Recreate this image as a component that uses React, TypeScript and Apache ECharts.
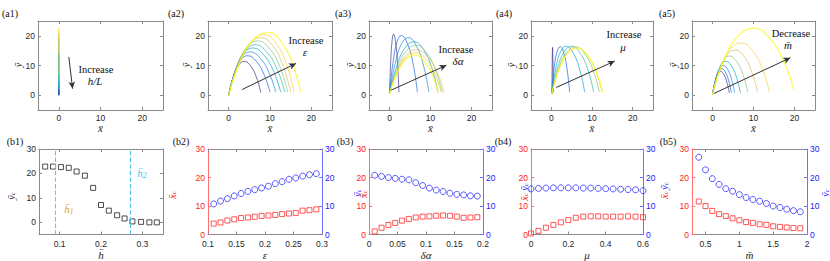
import React, { useEffect, useRef } from 'react';
import * as echarts from 'echarts';

// ---------------- data ----------------
const a1Heights = [22.8, 22.5, 20.8, 19.1, 14.1, 7.1, 4.8, 2.9, 1.6];

const a2Curves = [
  [[0, 0], [1.14, 6.27], [2.47, 10.26], [3.8, 11.4], [5.4, 9.69], [6.8, 5.7], [7.8, 0.8]],
  [[0, 0], [1.38, 7.32], [2.99, 11.97], [4.6, 13.3], [6.76, 11.31], [8.65, 6.65], [10.0, 1]],
  [[0, 0], [1.56, 8.03], [3.38, 13.14], [5.2, 14.6], [7.68, 12.41], [9.85, 7.3], [11.4, 1]],
  [[0, 0], [1.74, 8.75], [3.77, 14.31], [5.8, 15.9], [8.52, 13.52], [10.9, 7.95], [12.6, 1]],
  [[0, 0], [1.92, 9.35], [4.16, 15.3], [6.4, 17.0], [9.28, 14.45], [11.8, 8.5], [13.6, 1]],
  [[0, 0], [2.13, 10.07], [4.62, 16.47], [7.1, 18.3], [9.98, 15.56], [12.5, 9.15], [14.3, 1]],
  [[0, 0], [2.37, 10.67], [5.14, 17.46], [7.9, 19.4], [10.74, 16.49], [13.23, 9.7], [15.0, 1]],
  [[0, 0], [2.61, 11.22], [5.66, 18.36], [8.7, 20.4], [11.54, 17.34], [14.03, 10.2], [15.8, 1]],
  [[0, 0], [2.88, 11.66], [6.24, 19.08], [9.6, 21.2], [12.72, 18.02], [15.45, 10.6], [17.4, 1]],
];

const a3Curves = [
  [[0, 0.5], [0.3, 11.33], [0.65, 18.54], [1.0, 20.6], [1.52, 17.51], [1.98, 10.3], [2.3, 1]],
  [[0, 0.5], [0.87, 11.06], [1.89, 18.09], [2.9, 20.1], [4.46, 17.09], [5.83, 10.05], [6.8, 1]],
  [[0, 0.5], [1.38, 10.67], [2.99, 17.46], [4.6, 19.4], [6.6, 16.49], [8.35, 9.7], [9.6, 1]],
  [[0, 0.5], [1.8, 9.9], [3.9, 16.2], [6.0, 18.0], [8.32, 15.3], [10.35, 9.0], [11.8, 1]],
  [[0, 0.5], [1.95, 9.24], [4.23, 15.12], [6.5, 16.8], [9.02, 14.28], [11.23, 8.4], [12.8, 1]],
  [[0, 0.5], [1.98, 8.42], [4.29, 13.77], [6.6, 15.3], [9.28, 13.0], [11.63, 7.65], [13.3, 1]],
  [[0, 0.5], [1.92, 7.87], [4.16, 12.87], [6.4, 14.3], [8.88, 12.16], [11.05, 7.15], [12.6, 1]],
  [[0, 0.5], [1.86, 7.43], [4.03, 12.15], [6.2, 13.5], [8.48, 11.48], [10.48, 6.75], [11.9, 1]],
];

const a4Curves = [
  [[0.15, 0.5], [0.2, 9], [0.3, 16.1], [0.4, 10], [0.5, 1]],
  [[0.1, 0.5], [0.66, 9.02], [1.43, 14.76], [2.2, 16.4], [3.12, 13.94], [3.93, 8.2], [4.5, 1]],
  [[0.1, 0.5], [1.08, 9.08], [2.34, 14.85], [3.6, 16.5], [5.44, 14.03], [7.05, 8.25], [8.2, 1]],
  [[0.1, 0.5], [1.5, 9.08], [3.25, 14.85], [5.0, 16.5], [7.16, 14.03], [9.05, 8.25], [10.4, 1]],
  [[0.1, 0.5], [1.77, 8.97], [3.84, 14.67], [5.9, 16.3], [8.26, 13.86], [10.33, 8.15], [11.8, 1]],
  [[0.1, 0.5], [1.89, 8.8], [4.1, 14.4], [6.3, 16.0], [8.78, 13.6], [10.95, 8.0], [12.5, 1]],
  [[0.1, 0.5], [1.89, 8.75], [4.1, 14.31], [6.3, 15.9], [8.82, 13.52], [11.03, 7.95], [12.6, 1]],
];

const a5Curves = [
  [[0, 0.3], [0.6, 4.4], [1.3, 7.2], [2.0, 8.0], [2.84, 6.8], [3.58, 4.0], [4.1, 0.8]],
  [[0, 0.3], [0.69, 4.9], [1.5, 8.01], [2.3, 8.9], [3.22, 7.57], [4.03, 4.45], [4.6, 0.8]],
  [[0, 0.3], [0.81, 5.5], [1.76, 9.0], [2.7, 10.0], [3.78, 8.5], [4.73, 5.0], [5.4, 0.8]],
  [[0, 0.3], [0.99, 6.27], [2.15, 10.26], [3.3, 11.4], [4.7, 9.69], [5.93, 5.7], [6.8, 0.8]],
  [[0, 0.3], [1.26, 7.26], [2.73, 11.88], [4.2, 13.2], [5.96, 11.22], [7.5, 6.6], [8.6, 1]],
  [[0, 0.3], [1.68, 8.36], [3.64, 13.68], [5.6, 15.2], [7.76, 12.92], [9.65, 7.6], [11.0, 1]],
  [[0, 0.3], [2.1, 9.68], [4.55, 15.84], [7.0, 17.6], [9.76, 14.96], [12.18, 8.8], [13.9, 1]],
  [[0, 0.3], [3.0, 12.43], [6.5, 20.34], [10.0, 22.6], [13.96, 19.21], [17.43, 11.3], [19.9, 1.5]],
];

const a1Arrow = [[2.4, 12.9], [3.3, 2.2]];
const a2Arrow = [[3.25, 1.9], [16.3, 10.7]];
const a3Arrow = [[0.4, 1.7], [13.9, 10.1]];
const a4Arrow = [[1.2, 2.6], [15.6, 11.5]];
const a5Arrow = [[0.4, 0.6], [19.0, 12.6]];

const b1X = [0.065, 0.084, 0.103, 0.122, 0.141, 0.161, 0.181, 0.2, 0.219, 0.239, 0.257, 0.276, 0.297, 0.317, 0.335];
const b1Y = [22.8, 22.8, 22.6, 22.3, 20.8, 19.1, 14.1, 7.1, 4.8, 2.9, 1.6, 0.4, 0.2, 0.0, 0.0];
const b1Lines = [0.087, 0.272];

const b2X = [0.11, 0.122, 0.134, 0.146, 0.158, 0.17, 0.182, 0.194, 0.206, 0.218, 0.23, 0.242, 0.254, 0.266, 0.278, 0.29];
const b2Xc = [3.85, 4.25, 4.95, 5.35, 5.8, 6.0, 6.25, 6.55, 6.7, 6.9, 7.2, 7.4, 7.6, 8.4, 8.55, 8.85];
const b2Yc = [10.75, 11.75, 12.6, 13.55, 14.4, 15.15, 15.75, 16.35, 16.95, 17.85, 18.55, 19.4, 19.85, 20.5, 21.0, 21.35];

const b3X = [0.01, 0.022, 0.034, 0.046, 0.058, 0.07, 0.082, 0.094, 0.106, 0.118, 0.13, 0.142, 0.154, 0.166, 0.178, 0.19];
const b3Xc = [1.1, 2.4, 3.4, 4.1, 4.9, 5.5, 6.0, 6.3, 6.4, 6.6, 6.7, 6.6, 6.3, 5.9, 6.0, 6.1];
const b3Yc = [20.8, 20.4, 20.0, 19.7, 19.4, 19.2, 18.2, 17.2, 16.3, 15.6, 15.1, 14.5, 14.1, 13.9, 13.6, 13.5];

const b4X = [0, 0.04, 0.08, 0.12, 0.16, 0.2, 0.24, 0.28, 0.32, 0.36, 0.4, 0.44, 0.48, 0.52, 0.56, 0.6];
const b4Xc = [0.4, 1.3, 2.4, 3.4, 4.3, 5.1, 5.9, 6.3, 6.4, 6.4, 6.3, 6.3, 6.3, 6.4, 6.3, 6.1];
const b4Yc = [16.0, 16.2, 16.3, 16.4, 16.4, 16.4, 16.4, 16.3, 16.3, 16.2, 16.1, 16.0, 15.9, 15.8, 15.7, 15.4];

const b5X = [0.4, 0.5, 0.6, 0.7, 0.8, 0.9, 1.0, 1.1, 1.2, 1.3, 1.4, 1.5, 1.6, 1.7, 1.8, 1.9];
const b5Xc = [11.6, 10.0, 8.3, 7.2, 6.5, 5.7, 5.0, 4.4, 4.1, 3.6, 3.4, 2.9, 2.7, 2.5, 2.3, 2.2];
const b5Yc = [27.1, 22.7, 19.6, 17.6, 16.1, 15.2, 14.0, 13.0, 12.3, 11.7, 10.9, 10.0, 9.5, 8.9, 8.4, 8.0];

const aTicks = [0, 10, 20];
const bYTicks = [0, 10, 20, 30];
const b1XTicks = [0.1, 0.2, 0.3];
const b2XTicks = [0.1, 0.15, 0.2, 0.25, 0.3];
const b3XTicks = [0, 0.05, 0.1, 0.15, 0.2];
const b4XTicks = [0, 0.2, 0.4, 0.6];
const b5XTicks = [0.5, 1, 1.5, 2];

// ---------------- styles ----------------
const PARULA = ['#352a87', '#0f5cdd', '#1481d6', '#06a4ca', '#2eb7a4', '#87bf77', '#d1bb59', '#fec832', '#f9fb0e'];
const SERIF = "Liberation Serif";
const SANS = "Liberation Sans";
const AX = '#8a8a8a';
const TXT = '#262626';
const RED_L = '#ff7070';
const RED = '#ff1a1a';
const BLUE_L = '#7070ff';
const BLUE = '#1a1aff';
const MK_RED = '#ff3030';
const MK_BLUE = '#3030ff';
const ORANGE = '#F0A81C';
const CYAN = '#4DBEEE';

const gridsA = [
  { left: 38, top: 21, width: 125, height: 89 },
  { left: 208, top: 21, width: 124, height: 89 },
  { left: 369, top: 21, width: 123, height: 89 },
  { left: 531, top: 21, width: 122, height: 89 },
  { left: 692, top: 21, width: 123, height: 89 },
];
const gridsB = [
  { left: 39, top: 149, width: 124, height: 89 },
  { left: 208, top: 149, width: 114, height: 89 },
  { left: 369, top: 149, width: 114, height: 89 },
  { left: 531, top: 149, width: 112, height: 89 },
  { left: 692, top: 149, width: 115, height: 89 },
];

function xAxes(g: number, min: number, max: number, ticks: number[], name: string, nameGap: number, margin: number) {
  const common = { type: 'value', gridIndex: g, min, max, splitLine: { show: false } };
  const tick = { show: true, inside: true, length: 3, customValues: ticks, lineStyle: { color: AX, width: 1 } };
  return [
    {
      ...common, position: 'bottom',
      axisLine: { show: true, onZero: false, lineStyle: { color: AX, width: 1 } },
      axisTick: tick,
      axisLabel: { show: true, customValues: ticks, color: TXT, fontSize: 8.5, fontFamily: SANS, margin },
      name, nameLocation: 'middle', nameGap,
      nameTextStyle: { fontFamily: SERIF, fontStyle: 'italic', fontSize: 11, color: TXT },
    },
    {
      ...common, position: 'top',
      axisLine: { show: true, onZero: false, lineStyle: { color: AX, width: 1 } },
      axisTick: tick,
      axisLabel: { show: false },
    },
  ];
}

function yAxes(g: number, min: number, max: number, ticks: number[], dual: boolean) {
  const common = { type: 'value', gridIndex: g, min, max, splitLine: { show: false } };
  const lc = dual ? RED_L : AX;
  const tc = dual ? RED : TXT;
  const rc = dual ? BLUE_L : AX;
  return [
    {
      ...common, position: 'left',
      axisLine: { show: true, onZero: false, lineStyle: { color: lc, width: 1 } },
      axisTick: { show: true, inside: true, length: 3, customValues: ticks, lineStyle: { color: lc } },
      axisLabel: { show: true, customValues: ticks, color: tc, fontSize: 8.5, fontFamily: SANS, margin: 3 },
    },
    {
      ...common, position: 'right',
      axisLine: { show: true, onZero: false, lineStyle: { color: rc, width: 1 } },
      axisTick: { show: true, inside: true, length: 3, customValues: ticks, lineStyle: { color: rc } },
      axisLabel: { show: dual, customValues: ticks, color: BLUE, fontSize: 8.5, fontFamily: SANS, margin: 3 },
    },
  ];
}

function arrowLine(pts: number[][]) {
  return {
    silent: true,
    symbol: ['none', 'arrow'],
    symbolSize: [5, 7],
    label: { show: false },
    lineStyle: { color: '#333', width: 1, type: 'solid' },
    data: [[{ coord: pts[0] }, { coord: pts[1] }]],
  };
}

function curveSeries(g: number, curves: number[][][], arrow: number[][]) {
  const n = curves.length;
  return curves.map((pts, k) => ({
    type: 'line',
    xAxisIndex: 2 * g,
    yAxisIndex: 2 * g,
    data: pts,
    smooth: 0.45,
    symbol: 'none',
    showSymbol: false,
    silent: true,
    lineStyle: { color: PARULA[Math.round((k * 8) / (n - 1))], width: k === n - 1 ? 1.2 : 0.9, opacity: 0.75 },
    markLine: k === n - 1 ? arrowLine(arrow) : undefined,
  }));
}

function T(x: number, y: number, text: string, o: any = {}) {
  const size = o.size ?? 10.5;
  return {
    type: 'text', x, y, rotation: o.rot ?? 0, silent: true, z: 100,
    style: {
      text,
      fontFamily: SERIF,
      fontSize: size,
      fontStyle: o.italic ? 'italic' : 'normal',
      fontWeight: 'normal',
      fill: o.color ?? '#111',
      textAlign: 'center', textVerticalAlign: 'middle', align: 'center', verticalAlign: 'middle',
      rich: o.rich,
    },
  };
}

function subLabel(x: number, y: number, base: string, s: string, color: string, rot = 0, size = 10) {
  return T(x, y, `{v|${base}}{s|${s}}`, {
    rot,
    color,
    rich: {
      v: { fontFamily: SERIF, fontStyle: 'italic', fontWeight: 'normal', fontSize: size, fill: color, color },
      s: { fontFamily: SERIF, fontStyle: 'italic', fontWeight: 'normal', fontSize: size * 0.7, fill: color, color, verticalAlign: 'bottom', padding: [4, 0, 0, 0] },
    },
  });
}

function buildOption() {
  const grid = [...gridsA, ...gridsB].map((g) => ({ ...g, containLabel: false }));
  const xAxis: any[] = [];
  const yAxis: any[] = [];
  for (let i = 0; i < 5; i++) {
    xAxis.push(...xAxes(i, -5, 25, aTicks, 'x\u0304', 11, 3));
    yAxis.push(...yAxes(i, -5, 25, aTicks, false));
  }
  xAxis.push(...xAxes(5, 0.05, 0.35, b1XTicks, 'h\u0304', 9, 4.5));
  yAxis.push(...yAxes(5, -5, 30, bYTicks, false));
  xAxis.push(...xAxes(6, 0.1, 0.3, b2XTicks, '\u03b5', 9, 4.5));
  yAxis.push(...yAxes(6, 0, 30, bYTicks, true));
  xAxis.push(...xAxes(7, 0, 0.2, b3XTicks, '\u03b4\u03b1', 9, 4.5));
  yAxis.push(...yAxes(7, 0, 30, bYTicks, true));
  xAxis.push(...xAxes(8, 0, 0.6, b4XTicks, '\u03bc', 9, 4.5));
  yAxis.push(...yAxes(8, 0, 30, bYTicks, true));
  xAxis.push(...xAxes(9, 0.3, 2, b5XTicks, 'm\u0304', 9, 4.5));
  yAxis.push(...yAxes(9, 0, 30, bYTicks, true));

  const series: any[] = [];
  // a1 vertical lines
  a1Heights.forEach((h, k) => {
    series.push({
      type: 'line', xAxisIndex: 0, yAxisIndex: 0,
      data: [[0, 0], [0, h]],
      symbol: 'none', showSymbol: false, silent: true,
      lineStyle: { color: PARULA[8 - k], width: 1, opacity: 0.7 },
      markLine: k === a1Heights.length - 1 ? arrowLine(a1Arrow) : undefined,
    });
  });
  series.push(...curveSeries(1, a2Curves, a2Arrow));
  series.push(...curveSeries(2, a3Curves, a3Arrow));
  series.push(...curveSeries(3, a4Curves, a4Arrow));
  series.push(...curveSeries(4, a5Curves, a5Arrow));

  // b1 dashed reference lines (two separate line markers)
  series.push({
    type: 'line', xAxisIndex: 10, yAxisIndex: 10, data: [],
    markLine: {
      silent: true, symbol: ['none', 'none'], label: { show: false },
      lineStyle: { color: ORANGE, type: 'dashed', width: 1.1 },
      data: [{ xAxis: b1Lines[0] }],
    },
  });
  series.push({
    type: 'line', xAxisIndex: 10, yAxisIndex: 10, data: [],
    markLine: {
      silent: true, symbol: ['none', 'none'], label: { show: false },
      lineStyle: { color: CYAN, type: 'dashed', width: 1.1 },
      data: [{ xAxis: b1Lines[1] }],
    },
  });
  series.push({
    type: 'scatter', xAxisIndex: 10, yAxisIndex: 10,
    data: b1X.map((x, i) => [x, b1Y[i]]),
    symbol: 'rect', symbolSize: 5, silent: true,
    itemStyle: { color: 'rgba(0,0,0,0)', borderColor: '#222', borderWidth: 1 },
  });
  const bSets = [
    [b2X, b2Xc, b2Yc],
    [b3X, b3Xc, b3Yc],
    [b4X, b4Xc, b4Yc],
    [b5X, b5Xc, b5Yc],
  ];
  bSets.forEach(([xs, xc, yc], j) => {
    const g = 6 + j;
    series.push({
      type: 'scatter', xAxisIndex: 2 * g, yAxisIndex: 2 * g,
      data: xs.map((x, i) => [x, xc[i]]),
      symbol: 'rect', symbolSize: 5, silent: true,
      itemStyle: { color: 'rgba(0,0,0,0)', borderColor: MK_RED, borderWidth: 1 },
    });
    series.push({
      type: 'scatter', xAxisIndex: 2 * g, yAxisIndex: 2 * g + 1,
      data: xs.map((x, i) => [x, yc[i]]),
      symbol: 'circle', symbolSize: 6, silent: true,
      itemStyle: { color: 'rgba(0,0,0,0)', borderColor: MK_BLUE, borderWidth: 1 },
    });
  });

  const R = Math.PI / 2;
  const graphic: any[] = [
    T(10, 13, '(a1)', { size: 10 }),
    T(176, 13, '(a2)', { size: 10 }),
    T(343, 13, '(a3)', { size: 10 }),
    T(504, 13, '(a4)', { size: 10 }),
    T(667, 13, '(a5)', { size: 10 }),
    T(15, 141, '(b1)', { size: 10 }),
    T(181, 141, '(b2)', { size: 10 }),
    T(345, 141, '(b3)', { size: 10 }),
    T(503, 141, '(b4)', { size: 10 }),
    T(668, 141, '(b5)', { size: 10 }),
    // y labels top row
    T(18, 65, 'y\u0304', { italic: true, size: 10, rot: R }),
    T(186, 65, 'y\u0304', { italic: true, size: 10, rot: R }),
    T(350, 65, 'y\u0304', { italic: true, size: 10, rot: R }),
    T(511, 65, 'y\u0304', { italic: true, size: 10, rot: R }),
    T(673, 65, 'y\u0304', { italic: true, size: 10, rot: R }),
    // annotations
    T(96, 69, 'Increase'),
    T(95, 81, 'h/L', { italic: true, size: 11 }),
    T(306, 40, 'Increase'),
    T(305, 52, '\u03b5', { italic: true, size: 11 }),
    T(456, 49, 'Increase'),
    T(458, 61, '\u03b4\u03b1', { italic: true, size: 11 }),
    T(624, 34, 'Increase'),
    T(623, 47, '\u03bc', { italic: true, size: 11 }),
    T(791, 33, 'Decrease'),
    T(788, 45, 'm\u0304', { italic: true, size: 11 }),
    // b1 labels
    subLabel(69, 209, 'h\u0304', '1', '#D9A61A', 0, 11),
    subLabel(142, 173, 'h\u0304', '2', CYAN, 0, 11),
    // bottom y labels
    subLabel(11, 196, 'y\u0304', 'c', TXT, R),
    subLabel(172, 195, 'x\u0304', 'c', RED, R),
    subLabel(357, 193, 'y\u0304', 'c', BLUE, R),
    subLabel(363, 194, 'x\u0304', 'c', RED, R),
    subLabel(524, 187, 'y\u0304', 'c', BLUE, R),
    subLabel(524, 197, 'x\u0304', 'c', RED, R),
    subLabel(664, 186, 'y\u0304', 'c', BLUE, R),
    subLabel(664, 195, 'x\u0304', 'c', RED, R),
    subLabel(825, 193, 'y\u0304', 'c', BLUE, R),
  ];

  return { animation: false, backgroundColor: '#fff', grid, xAxis, yAxis, series, graphic };
}

export default function App() {
  const ref = useRef<HTMLDivElement>(null);
  useEffect(() => {
    document.body.style.margin = '0';
    const chart = echarts.init(ref.current!, undefined, { renderer: 'svg', width: 830, height: 261 });
    chart.setOption(buildOption() as any);
    return () => chart.dispose();
  }, []);
  return <div ref={ref} style={{ width: 830, height: 261, position: 'absolute', left: 0, top: 0 }} />;
}
